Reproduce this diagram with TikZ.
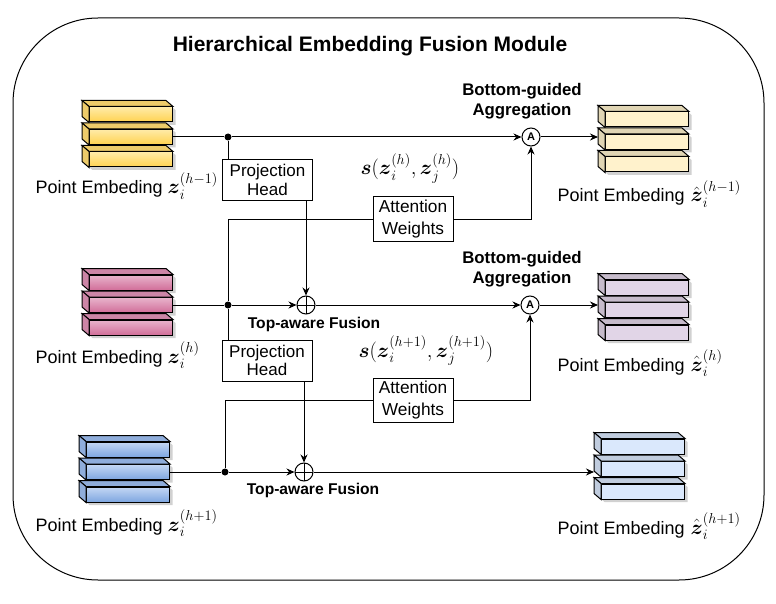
\documentclass[tikz,border=0pt]{standalone}
\usepackage{amsmath}
\usepackage{amssymb}
\usepackage{fontspec}
\setmainfont{Liberation Sans}
\usetikzlibrary{shapes,positioning,calc,arrows.meta}
\definecolor{ylwTop}{HTML}{FFEBA8}
\definecolor{ylwBot}{HTML}{FFD24F}
\definecolor{ylwSide}{HTML}{EDCB6A}
\definecolor{pnkTop}{HTML}{E8B4CC}
\definecolor{pnkBot}{HTML}{D16E99}
\definecolor{pnkSide}{HTML}{CC85A6}
\definecolor{bluTop}{HTML}{C4D7F4}
\definecolor{bluBot}{HTML}{7EA6E0}
\definecolor{bluSide}{HTML}{8FADDB}
\definecolor{ylwPale}{HTML}{FFF2CC}
\definecolor{prpPale}{HTML}{E1D5E7}
\definecolor{bluPale}{HTML}{DAE8FC}

\newcommand{\mathbig}[1]{{\fontsize{20}{24}\selectfont$#1$}}
% three stacked blocks, #1 name of the middle front face
\newcommand{\embStack}[4]{%
  \foreach \dy/\sfx in {-22.5/a,0/,22.5/c} {
    \fill[black,opacity=0.18] ($(#2)+(0,\dy)+(-45.5,-10.5)$) -- ++(83,0) -- ++(7,6)
          -- ++(0,15) -- ++(-83,0) -- ++(-7,-6) -- cycle;
    \node[blockN,#3] (#1\sfx) at ($(#2)+(0,\dy)$) {};
    \draw[#4] (#1\sfx.north west) -- ++(-7,-6) -- ([shift={(-7,-6)}]#1\sfx.north east)
              -- (#1\sfx.north east) -- cycle;
    \draw[#4] (#1\sfx.north west) -- ++(-7,-6) -- ([shift={(-7,-6)}]#1\sfx.south west)
              -- (#1\sfx.south west) -- cycle;
  }}

\begin{document}
\begin{tikzpicture}
  [x=1pt,y=-1pt,line width=1pt,
   arr/.style={-{Stealth[length=8pt,width=7pt]}},
   blockN/.style={draw,rectangle,minimum width=83pt,minimum height=15pt,inner sep=0},
   boxN/.style={draw,align=center,inner sep=1pt,fill=white},
   projN/.style={boxN,minimum width=90pt,minimum height=41pt,font=\fontsize{17}{18.5}\selectfont},
   attN/.style={boxN,minimum width=80pt,minimum height=44pt,font=\fontsize{17.3}{21.5}\selectfont},
   aggN/.style={draw,circle,minimum size=18pt,inner sep=0,font=\bfseries\fontsize{11}{12}\selectfont},
   fuseN/.style={draw,circle,minimum size=18pt,inner sep=0,
     path picture={\draw (path picture bounding box.north) -- (path picture bounding box.south)
                         (path picture bounding box.west) -- (path picture bounding box.east);}},
   dotN/.style={circle,fill,inner sep=0,minimum size=7pt},
   lbl/.style={anchor=base west,inner sep=0,font=\fontsize{18}{21}\selectfont},
   bold/.style={align=center,font=\bfseries\fontsize{16.8}{20}\selectfont},
  ]

 \useasboundingbox (0,0) rectangle (776,604);
 \draw[rounded corners=85pt] (13,18) rectangle (764,580);

 \node[font=\bfseries\fontsize{21}{24}\selectfont] (title) at (370,46)
   {Hierarchical Embedding Fusion Module};

 \embStack{e1l}{131,137}{top color=ylwTop,bottom color=ylwBot}{fill=ylwSide}
 \embStack{e2l}{131,305}{top color=pnkTop,bottom color=pnkBot}{fill=pnkSide}
 \embStack{e3l}{128,472}{top color=bluTop,bottom color=bluBot}{fill=bluSide}
 \embStack{e1r}{647,142}{fill=ylwPale}{fill=ylwPale!88!black}
 \embStack{e2r}{647,310}{fill=prpPale}{fill=prpPale!88!black}
 \embStack{e3r}{643,469}{fill=bluPale}{fill=bluPale!88!black}

 \node[lbl] (l1l) at (35,194) {Point Embeding \mathbig{\boldsymbol{z}_i^{(h-1)}}};
 \node[lbl] (l2l) at (35,363) {Point Embeding \mathbig{\boldsymbol{z}_i^{(h)}}};
 \node[lbl] (l3l) at (35,531) {Point Embeding \mathbig{\boldsymbol{z}_i^{(h+1)}}};
 \node[lbl] (l1r) at (557,202) {Point Embeding\hspace{6pt}\mathbig{\hat{\boldsymbol{z}}_i^{(h-1)}}};
 \node[lbl] (l2r) at (557,371) {Point Embeding\hspace{6pt}\mathbig{\hat{\boldsymbol{z}}_i^{(h)}}};
 \node[lbl] (l3r) at (557,534) {Point Embeding\hspace{6pt}\mathbig{\hat{\boldsymbol{z}}_i^{(h+1)}}};

 \node[dotN]  (j1)  at (228,137) {};
 \node[dotN]  (j2)  at (228,305) {};
 \node[dotN]  (j3)  at (225,472) {};
 \node[projN] (ph1) at (267.5,180) {Projection\\Head};
 \node[projN] (ph2) at (267,360.5) {Projection\\Head};
 \node[attN]  (aw1) at (413,219) {Attention\\Weights};
 \node[attN]  (aw2) at (413,400) {Attention\\Weights};
 \node[fuseN] (fu2) at (306,305) {};
 \node[fuseN] (fu3) at (304,472) {};
 \node[aggN]  (ag1) at (531,137) {A};
 \node[aggN]  (ag2) at (530,305) {A};

 \node[bold] (bg1) at (522,101) {Bottom-guided\\Aggregation};
 \node[bold] (bg2) at (522,269) {Bottom-guided\\Aggregation};
 \node[bold,font=\bfseries\fontsize{15.6}{18}\selectfont] (tf2) at (314,324) {Top-aware Fusion};
 \node[bold,font=\bfseries\fontsize{15.6}{18}\selectfont] (tf3) at (313,490) {Top-aware Fusion};
 \node[lbl]  (s1)  at (360,175)
   {\mathbig{\boldsymbol{s}(\boldsymbol{z}_i^{(h)},\boldsymbol{z}_j^{(h)})}};
 \node[lbl]  (s2)  at (358,357)
   {\mathbig{\boldsymbol{s}(\boldsymbol{z}_i^{(h+1)},\boldsymbol{z}_j^{(h+1)})}};

 \draw (e1l.east) -- (j1);
 \draw[arr] (j1) -- (ag1);
 \draw[arr] (ag1) -- ($(ag1 -| e1r.west)+(-7,0)$);
 \draw (j1) -- (j1 |- ph1.north);
 \draw[arr] (fu2 |- ph1.south) -- (fu2);

 \draw (e2l.east) -- (j2);
 \draw[arr] (j2) -- (fu2);
 \draw[arr] (fu2) -- (ag2);
 \draw[arr] (ag2) -- ($(ag2 -| e2r.west)+(-7,0)$);
 \draw (j2) -- (j2 |- aw1) -- (aw1.west);
 \draw[arr] (aw1.east) -- (ag1 |- aw1) -- (ag1);
 \draw (j2) -- (j2 |- ph2.north);
 \draw[arr] (fu3 |- ph2.south) -- (fu3);

 \draw (e3l.east) -- (j3);
 \draw[arr] (j3) -- (fu3);
 \draw[arr] (fu3) -- ($(fu3 -| e3r.west)+(-7,0)$);
 \draw (j3) -- (j3 |- aw2) -- (aw2.west);
 \draw[arr] (aw2.east) -- (ag2 |- aw2) -- (ag2);

\end{tikzpicture}
\end{document}
